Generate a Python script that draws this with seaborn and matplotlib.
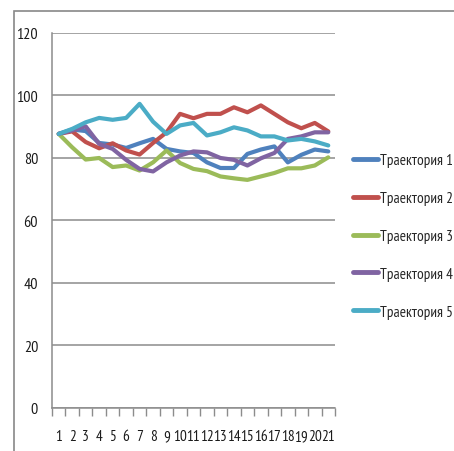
import numpy as np
import pandas as pd
import seaborn as sns
import matplotlib
matplotlib.use("Agg")
import matplotlib.pyplot as plt
from matplotlib.patches import Rectangle
from matplotlib.ticker import FixedLocator

steps = list(range(1, 22))

traj1 = [87.6, 89.0, 88.5, 84.7, 84.2, 83.1, 84.6, 86.0, 82.8, 82.0, 81.5,
         78.5, 76.7, 76.7, 81.2, 82.6, 83.6, 78.5, 80.9, 82.6, 82.0]
traj2 = [87.6, 88.4, 85.0, 83.0, 84.6, 82.3, 81.0, 84.7, 88.1, 94.0, 92.6,
         94.0, 94.0, 96.1, 94.5, 96.7, 94.0, 91.3, 89.4, 91.1, 88.4]
traj3 = [87.6, 83.3, 79.4, 79.9, 77.0, 77.5, 75.9, 78.5, 82.3, 78.3, 76.4,
         75.7, 74.0, 73.4, 72.9, 74.0, 75.1, 76.6, 76.6, 77.5, 80.1]
traj4 = [87.6, 88.7, 90.0, 84.4, 82.8, 79.3, 76.4, 75.6, 78.5, 80.7, 82.0,
         81.7, 79.9, 79.3, 77.5, 79.8, 81.5, 86.0, 86.8, 88.1, 88.1]
traj5 = [87.6, 89.2, 91.3, 92.7, 92.1, 92.7, 97.2, 91.5, 87.6, 90.3, 91.1,
         87.1, 88.1, 89.7, 88.7, 86.8, 86.8, 85.5, 86.0, 85.2, 83.9]

series_names = ["Траектория 1", "Траектория 2", "Траектория 3",
                "Траектория 4", "Траектория 5"]
series_values = [traj1, traj2, traj3, traj4, traj5]
colors = ["#4F81BD", "#C0504D", "#9BBB59", "#8064A2", "#4BACC6"]
y_ticks = [0, 20, 40, 60, 80, 100, 120]

df = pd.DataFrame({
    "step": steps * len(series_names),
    "value": [v for vals in series_values for v in vals],
    "series": [n for n in series_names for _ in steps],
})

sns.set_style("white")
plt.rcParams["font.family"] = ["PT Sans Narrow", "DejaVu Sans"]

fig = plt.figure(figsize=(4.54, 4.52), dpi=100)
ax = fig.add_axes([52 / 454, 43 / 452, 283 / 454, 375.5 / 452])

sns.lineplot(data=df, x="step", y="value", hue="series", palette=colors,
             hue_order=series_names, linewidth=3, ax=ax, legend=True)

grid_color = "#8C8C8C"
ax.set_xlim(0.5, 21.5)
ax.set_ylim(0, 120)
ax.set_yticks(y_ticks)
ax.set_yticklabels([str(t) for t in y_ticks])
ax.set_xticks(steps)
ax.set_xticklabels([str(s) for s in steps])
ax.xaxis.set_minor_locator(FixedLocator(np.arange(0.5, 22, 1.0)))
ax.tick_params(axis="x", which="major", length=0, pad=15, labelsize=11,
               labelcolor="#1a1a1a")
ax.tick_params(axis="x", which="minor", length=6, width=1, color=grid_color,
               direction="out", bottom=True)
ax.tick_params(axis="y", which="major", length=4, width=1, color=grid_color,
               direction="out", pad=6, labelsize=11.5, labelcolor="#1a1a1a")
ax.set_xlabel("")
ax.set_ylabel("")
ax.grid(axis="y", color=grid_color, linewidth=1.1)
ax.grid(axis="x", visible=False)
ax.set_axisbelow(True)
for side in ("top", "right"):
    ax.spines[side].set_visible(False)
for side in ("left", "bottom"):
    ax.spines[side].set_color(grid_color)
    ax.spines[side].set_linewidth(1.1)

handles, labels = ax.get_legend_handles_labels()
ax.get_legend().remove()
leg = fig.legend(handles, labels, loc="center left",
                 bbox_to_anchor=(353 / 454, 215 / 452), frameon=False,
                 fontsize=11, handlelength=1.65, handletextpad=0.15,
                 labelspacing=1.56, borderpad=0, borderaxespad=0)
for line in leg.get_lines():
    line.set_linewidth(3.5)

# outer chart frame
fig.patches.append(Rectangle((14 / 454, -0.1), 1.2, 1.1 - 12 / 452,
                             transform=fig.transFigure, fill=False,
                             edgecolor="#888888", linewidth=1.2))

fig.savefig("out.png", dpi=100)
